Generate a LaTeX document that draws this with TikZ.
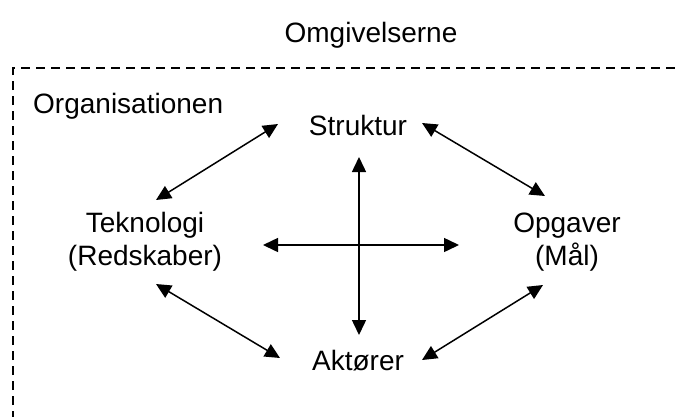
\documentclass[tikz,border=0pt]{standalone}
\usepackage{fontspec}
\setmainfont{Liberation Sans}
\usetikzlibrary{arrows.meta}
\begin{document}
\begin{tikzpicture}[x=1pt,y=-1pt,
  lbl/.style={font=\fontsize{28}{33}\selectfont, inner sep=0pt, align=center},
  biarrow/.style={line width=1.5pt, {Triangle[length=15pt,width=14pt]}-{Triangle[length=15pt,width=14pt]}},
  frame/.style={line width=1.5pt, dash pattern=on 9pt off 6pt}]
\useasboundingbox (0,0) rectangle (677,416);
\draw[frame] (13,420) -- (13,68) -- (680,68);
\node[lbl, anchor=base] (omg) at (371,42) {Omgivelserne};
\node[lbl, anchor=base west] (org) at (33,113) {Organisationen};
\node[lbl, anchor=base] (str) at (358,135) {Struktur};
\node[lbl, anchor=base] (tek) at (145,265) {Teknologi\\(Redskaber)};
\node[lbl, anchor=base] (opg) at (567,265) {Opgaver\\(Mål)};
\node[lbl, anchor=base] (akt) at (358,370) {Aktører};
% arrow end points
\coordinate (a1) at (156,200); \coordinate (b1) at (278,124);
\coordinate (a2) at (422,123); \coordinate (b2) at (545,196);
\coordinate (a3) at (156,284); \coordinate (b3) at (280,358);
\coordinate (a4) at (422,360); \coordinate (b4) at (543,285);
\coordinate (h1) at (263,245); \coordinate (h2) at (459,245);
\coordinate (v1) at (359,157); \coordinate (v2) at (359,335);
\draw[biarrow] (a1) -- (b1);
\draw[biarrow] (a2) -- (b2);
\draw[biarrow] (a3) -- (b3);
\draw[biarrow] (a4) -- (b4);
\draw[biarrow] (h1) -- (h2);
\draw[biarrow] (v1) -- (v2);
\end{tikzpicture}
\end{document}
